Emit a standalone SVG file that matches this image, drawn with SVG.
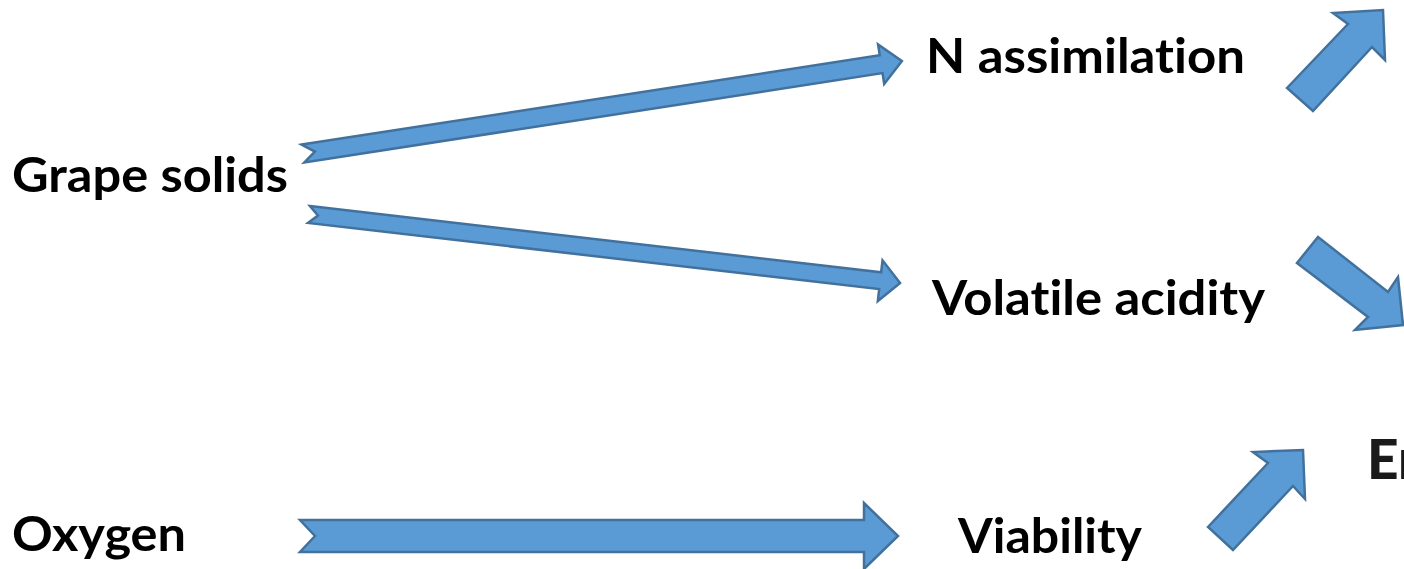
<svg xmlns="http://www.w3.org/2000/svg" width="1404" height="569" viewBox="0 0 1404 569">
  <style>
    .arrow { fill: #5B9BD5; stroke: #41719C; stroke-width: 2.5; stroke-linejoin: miter; }
    .label { font-family: Lato, "Open Sans", "Liberation Sans", sans-serif; font-weight: bold; font-size: 48px; fill: #000000; font-variant-ligatures: none; font-feature-settings: "liga" 0, "clig" 0; }
    .clip { font-family: Lato, "Liberation Sans", sans-serif; font-weight: 900; font-size: 55px; fill: #1a1a1a; }
  </style>
  <rect width="1404" height="569" fill="#ffffff"/>

  <g id="connectors">
    <!-- Grape solids -> N assimilation -->
    <path class="arrow" transform="translate(303,153.5) rotate(-8.78)" d="M0,-9 L585,-9 L585,-20 L606,0 L585,20 L585,9 L0,9 L12,0 Z"/>
    <!-- Grape solids -> Volatile acidity -->
    <path class="arrow" transform="translate(309,214.5) rotate(6.61)" d="M0,-8.5 L575,-8.5 L575,-20.5 L595,0 L575,20.5 L575,8.5 L0,8.5 L9,0 Z"/>
    <!-- Oxygen -> Viability -->
    <path class="arrow" transform="translate(300,536)" d="M0,-16 L564,-16 L564,-33 L598,0 L564,33 L564,16 L0,16 L15,0 Z"/>
    <!-- N assimilation -> (right) -->
    <polygon class="arrow" points="1287,88 1348,24 1333,13 1383,10 1385,60 1372,47 1313,111"/>
    <!-- Volatile acidity -> (right) -->
    <polygon class="arrow" points="1318,237 1388,292 1398,277 1403,325 1355,330 1368,317 1297,263"/>
    <!-- Viability -> (right) -->
    <polygon class="arrow" points="1208,527 1268,463 1253,452 1303,450 1305,499 1293,486 1233,550"/>
  </g>

  <g id="node-grape-solids">
    <text class="label" x="12" y="192" textLength="276" lengthAdjust="spacingAndGlyphs">Grape solids</text>
  </g>
  <g id="node-oxygen">
    <text class="label" x="12" y="551" textLength="174" lengthAdjust="spacingAndGlyphs">Oxygen</text>
  </g>
  <g id="node-n-assimilation">
    <text class="label" x="926" y="73" textLength="319" lengthAdjust="spacingAndGlyphs">N assimilation</text>
  </g>
  <g id="node-volatile-acidity">
    <text class="label" x="932" y="315" textLength="333" lengthAdjust="spacingAndGlyphs">Volatile acidity</text>
  </g>
  <g id="node-viability">
    <text class="label" x="958" y="553" textLength="184" lengthAdjust="spacingAndGlyphs">Viability</text>
  </g>
  <g id="node-clipped">
    <text class="clip" x="1367" y="479">Er</text>
  </g>
</svg>
